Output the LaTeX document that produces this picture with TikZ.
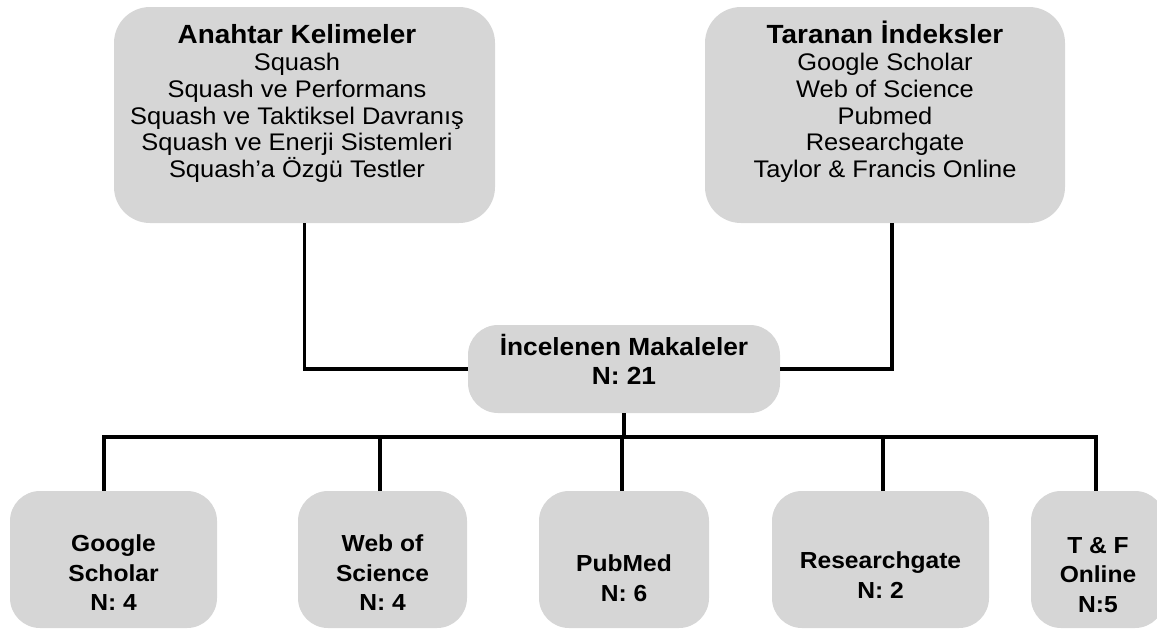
\documentclass[tikz,border=0pt]{standalone}
\usepackage{fontspec}
\setmainfont[FakeStretch=1.06]{Liberation Sans}
\usetikzlibrary{positioning}
\definecolor{boxgray}{HTML}{D6D6D6}
\tikzset{panel/.style={fill=boxgray,rounded corners=#1,inner sep=0pt},
panel/.default=30pt,
link/.style={line width=3.6pt},
boxtext/.style={align=center,inner sep=0pt},
cardfont/.style={font={\bfseries\fontsize{23.2}{29.5}\selectfont}}}

\begin{document}
\begin{tikzpicture}[x=1pt,y=-1pt]
  \useasboundingbox (0,0) rectangle (1157,630);
  \clip (0,0) rectangle (1157,630);
  \node[panel=36pt,minimum width=381pt,minimum height=216pt] (anahtar) at (304.5,115) {};
  \node[panel=36pt,minimum width=360pt,minimum height=216pt] (taranan) at (885,115) {};
  \node[panel,minimum width=312pt,minimum height=88pt] (makale) at (624,369) {};
  \node[boxtext,anchor=north,font={\fontsize{24}{26.8}\selectfont}] (anahtar-t) at (297,24.5)
   {{\bfseries\fontsize{26.3}{26.8}\selectfont Anahtar Kelimeler}\\Squash\\Squash ve Performans\\
    Squash ve Taktiksel Davranış\\Squash ve Enerji Sistemleri\\Squash’a Özgü Testler};
  \node[boxtext,anchor=north,font={\fontsize{24}{26.8}\selectfont}] (taranan-t) at (885,21)
   {{\bfseries\fontsize{26.3}{26.8}\selectfont Taranan İndeksler}\\Google Scholar\\Web of Science\\
    Pubmed\\Researchgate\\Taylor \& Francis Online};
  \node[boxtext,font={\bfseries\fontsize{24.8}{29}\selectfont}] (makale-t) at (624,359)
   {İncelenen Makaleler\\N: 21};
  \draw[link] (anahtar.south) |- (makale.west);
  \draw[link] ([xshift=7pt]taranan.south) |- (makale.east);
  \foreach \nm/\cx/\bw/\ty/\dx/\txt in {gs/113.5/207/573/-9.5/{Google\\Scholar\\N: 4},
    wos/382.5/169/573/-2.5/{Web of\\Science\\N: 4}, pm/624/170/578/-2/{PubMed\\N: 6},
    rg/880.5/217/575/2.5/{Researchgate\\N: 2}, tf/1098/134/575/-2/{T \& F\\Online\\N:5}}
  {\node[panel,minimum width=\bw pt,minimum height=137pt] (\nm) at (\cx,559.5) {};
   \node[boxtext,cardfont] (\nm-t) at (\cx,\ty) {\txt};
   \draw[link] (makale.south) -- ++(0,24) -| ([xshift=\dx pt]\nm.north);}
\end{tikzpicture}
\end{document}
